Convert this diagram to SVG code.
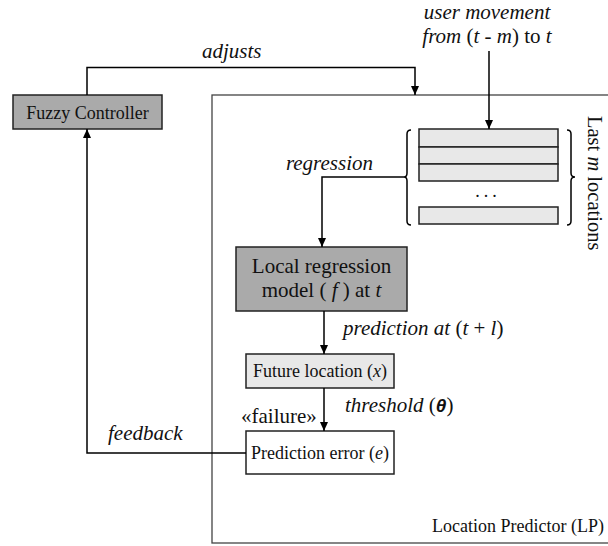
<svg xmlns="http://www.w3.org/2000/svg" width="608" height="546" viewBox="0 0 608 546" font-family="'Liberation Serif', Tinos, 'Times New Roman', 'DejaVu Serif', serif">
<defs>
<marker id="ah" markerWidth="10" markerHeight="10" refX="9" refY="5" orient="auto" markerUnits="userSpaceOnUse">
<path d="M0,1 L9,5 L0,9 Z" fill="#000"/>
</marker>
<style>
text{font-family:'Liberation Serif',Tinos,'Times New Roman','DejaVu Serif',serif;fill:#111}
.box{font-size:18px}
.big{font-size:21px}
.lbl{font-size:21px}
.it{font-style:italic}
.sym{font-family:'Liberation Sans',Arial,sans-serif;font-style:italic;font-weight:bold;font-size:19px}
.con{fill:none;stroke:#000;stroke-width:1.5}
.dark{fill:#aaaaaa;stroke:#222;stroke-width:1.5}
.light{fill:#e8e8e8;stroke:#222;stroke-width:1.5}
.white{fill:#fff;stroke:#222;stroke-width:1.5}
</style>
</defs>
<rect width="608" height="546" fill="#fff"/>

<g id="location-predictor">
<rect x="212" y="95" width="410" height="448" fill="none" stroke="#444" stroke-width="1.3"/>
<text class="box" x="604" y="532" text-anchor="end">Location Predictor (LP)</text>
</g>

<g id="fuzzy-controller">
<rect class="dark" x="13" y="95" width="149" height="34"/>
<text class="box" x="87.5" y="119" text-anchor="middle">Fuzzy Controller</text>
</g>

<g id="last-m-locations">
<rect class="light" x="419" y="129" width="139" height="18"/>
<rect class="light" x="419" y="147" width="139" height="17"/>
<rect class="light" x="419" y="164" width="139" height="17"/>
<rect class="light" x="419" y="207" width="139" height="17"/>
<text x="488" y="197" text-anchor="middle" style="font-size:18px;letter-spacing:4px">...</text>
<path class="con" stroke-width="1.2" d="M411,130 Q407,130 407,134 V173 Q407,177 404,177 Q407,177 407,181 V221 Q407,225 411,225"/>
<path class="con" stroke-width="1.2" d="M567,130 Q571,130 571,134 V173 Q571,177 575,177 Q571,177 571,181 V221 Q571,225 567,225"/>
<text transform="translate(588,116) rotate(90)" style="font-size:20.5px">Last <tspan class="it">m</tspan> locations</text>
</g>

<g id="local-regression-model">
<rect class="dark" x="236" y="247" width="171" height="64"/>
<text class="big" x="321.5" y="273" text-anchor="middle">Local regression</text>
<text class="big" x="321.5" y="297" text-anchor="middle">model ( <tspan class="it">f</tspan> ) at <tspan class="it">t</tspan></text>
</g>

<g id="future-location">
<rect class="light" x="246" y="354" width="148" height="34"/>
<text class="box" x="320" y="377" text-anchor="middle">Future location (<tspan class="it">x</tspan>)</text>
</g>

<g id="prediction-error">
<rect class="white" x="246" y="431" width="148" height="43"/>
<text class="box" x="320" y="459" text-anchor="middle">Prediction error (<tspan class="it">e</tspan>)</text>
</g>

<g id="connectors">
<path class="con" d="M87,95 V67.5 H415 V95" marker-end="url(#ah)"/>
<path class="con" d="M489,51 V129" marker-end="url(#ah)"/>
<path class="con" d="M404,177 H322 V247" marker-end="url(#ah)"/>
<path class="con" d="M324,311 V354" marker-end="url(#ah)"/>
<path class="con" d="M324,388 V431" marker-end="url(#ah)"/>
<path class="con" d="M246,453 H87 V129" marker-end="url(#ah)"/>
<text class="lbl it" x="202" y="58">adjusts</text>
<text class="lbl" x="487" y="19" text-anchor="middle"><tspan class="it">user movement</tspan></text>
<text class="lbl" x="487" y="43" text-anchor="middle"><tspan class="it">from</tspan> (<tspan class="it">t</tspan> - <tspan class="it">m</tspan>) to <tspan class="it">t</tspan></text>
<text class="lbl it" x="373" y="170" text-anchor="end">regression</text>
<text class="lbl" x="343" y="335"><tspan class="it">prediction at</tspan> (<tspan class="it">t</tspan> + <tspan class="it">l</tspan>)</text>
<text class="lbl" x="345" y="412"><tspan class="it">threshold</tspan> (<tspan class="sym">θ</tspan>)</text>
<text class="lbl" x="241" y="423">«failure»</text>
<text class="lbl it" x="108" y="440">feedback</text>
</g>
</svg>
